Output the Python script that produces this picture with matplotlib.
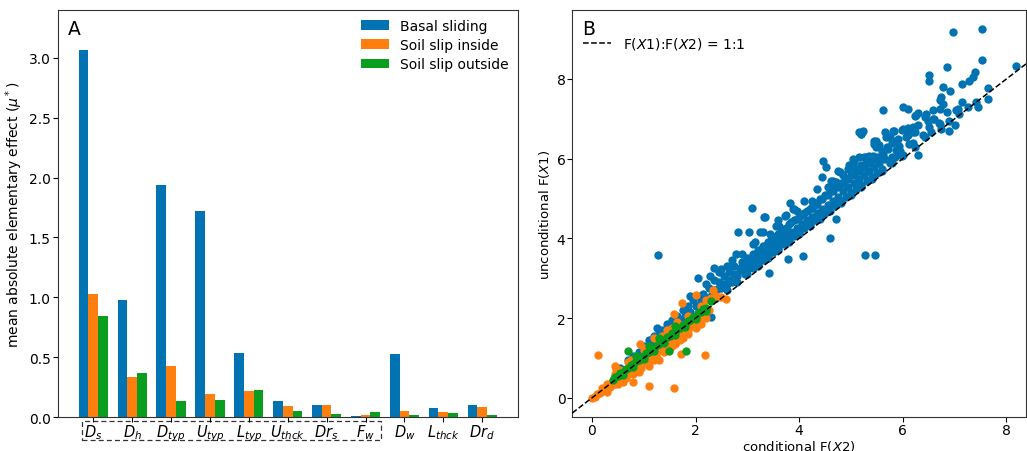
import numpy as np
import matplotlib
matplotlib.use("Agg")
import matplotlib.pyplot as plt
from matplotlib.patches import Rectangle
import matplotlib.transforms as mtransforms

# ---------------- data: panel A ----------------
categories = [r"$D_s$", r"$D_h$", r"$D_{typ}$", r"$U_{typ}$", r"$L_{typ}$", r"$U_{thck}$",
              r"$Dr_s$", r"$F_w$", r"$D_w$", r"$L_{thck}$", r"$Dr_d$"]
basal_sliding = [3.07, 0.978, 1.936, 1.718, 0.534, 0.131, 0.103, 0.008, 0.528, 0.073, 0.103]
soil_inside = [1.028, 0.335, 0.425, 0.196, 0.215, 0.089, 0.098, 0.017, 0.053, 0.042, 0.084]
soil_outside = [0.844, 0.369, 0.137, 0.145, 0.229, 0.053, 0.028, 0.042, 0.020, 0.031, 0.020]
series_names = ["Basal sliding", "Soil slip inside", "Soil slip outside"]

# ---------------- data: panel B ----------------
blue_pts = [
    # outliers / sparse upper part
    (6.96, 9.19), (7.53, 9.26), (7.53, 8.48), (8.18, 8.33), (6.85, 8.29), (6.51, 8.10),
    (6.51, 7.96), (7.40, 8.17), (7.35, 8.06), (7.28, 7.96), (7.15, 7.87), (7.64, 7.77),
    (6.78, 7.81), (6.91, 7.71), (6.74, 7.54), (6.71, 7.48), (7.15, 7.42), (7.41, 7.42),
    (7.25, 7.29), (7.06, 7.25), (5.61, 7.23), (6.00, 7.29), (6.11, 7.25), (6.29, 7.14),
    (6.23, 7.06), (6.45, 7.12), (6.58, 7.21), (6.71, 7.25), (6.78, 7.38), (6.85, 7.16),
    (6.48, 6.95), (6.58, 6.99), (6.71, 6.87), (6.90, 6.95), (7.03, 7.21), (7.09, 7.12),
    (6.74, 6.75), (6.90, 6.70), (6.55, 6.66), (6.42, 6.54), (6.19, 6.79), (6.23, 6.66),
    (6.00, 6.75), (5.81, 6.70), (5.65, 6.66), (5.23, 6.70), (5.20, 6.62), (5.45, 6.45),
    (5.48, 6.29), (5.74, 6.54), (5.87, 6.45), (5.93, 6.33), (5.87, 6.21), (6.06, 6.54),
    (6.12, 6.37), (6.23, 6.29), (5.71, 6.25), (5.61, 6.12), (5.42, 6.08), (5.29, 6.04),
    (5.55, 5.95), (5.80, 6.04), (5.99, 6.08), (6.25, 7.10), (6.42, 7.04), (5.16, 6.68),
    (5.19, 6.62), (5.84, 6.70), (5.99, 6.73), (6.10, 6.76), (6.20, 6.68), (5.68, 6.54),
    (5.49, 6.45), (5.45, 6.37), (4.46, 5.95), (4.52, 5.79), (5.03, 5.99), (5.16, 6.04),
    (5.29, 6.00), (5.35, 6.08), (4.97, 5.83), (4.78, 5.66), (4.71, 5.41), (4.62, 5.45),
    (3.08, 4.76), (3.35, 4.53), (2.82, 4.17), (3.04, 4.16), (3.24, 4.16), (3.43, 4.11),
    (3.74, 4.60), (3.82, 4.89), (3.88, 4.74), (3.62, 4.32), (3.72, 4.57), (3.33, 4.53),
    (1.27, 3.58), (2.05, 3.00), (2.27, 3.05), (2.50, 3.24), (2.79, 3.61),
    # points below the 1:1 line
    (5.27, 3.59), (5.46, 3.59), (4.60, 4.02), (4.07, 3.57), (3.42, 3.13), (3.78, 3.49),
    (2.30, 2.04), (4.71, 4.49), (6.30, 6.10), (7.00, 6.85), (7.45, 7.30), (7.65, 7.50),
    # dense band
    (0.45, 0.55), (0.55, 0.75), (0.60, 0.70), (0.70, 0.95), (0.75, 0.85), (0.80, 1.05),
    (0.85, 0.95), (0.90, 1.15), (0.95, 1.10), (1.00, 1.30), (1.05, 1.20), (1.10, 1.45),
    (1.15, 1.35), (1.20, 1.55), (1.25, 1.75), (1.30, 1.60), (1.35, 1.70), (1.40, 1.65),
    (1.45, 1.85), (1.50, 1.75), (1.55, 1.95), (1.60, 1.85), (1.65, 2.05), (1.70, 1.95),
    (1.75, 2.20), (1.80, 2.05), (1.85, 2.30), (1.90, 2.15), (1.95, 2.45), (2.00, 2.30),
    (2.05, 2.55), (2.10, 2.40), (2.15, 2.60), (2.20, 2.50), (2.25, 2.75), (2.30, 2.55),
    (2.35, 2.95), (2.40, 2.70), (2.45, 2.90), (2.50, 2.75), (2.55, 3.05), (2.60, 2.85),
    (2.65, 3.15), (2.70, 2.90), (2.75, 3.30), (2.80, 3.05), (2.85, 3.25), (2.90, 3.40),
    (2.95, 3.10), (3.00, 3.50), (3.00, 3.20), (3.05, 3.35), (3.10, 3.60), (3.10, 3.25),
    (3.15, 3.45), (3.20, 3.70), (3.20, 3.35), (3.25, 3.55), (3.30, 3.80), (3.30, 3.45),
    (3.35, 3.65), (3.40, 3.90), (3.40, 3.55), (3.45, 3.75), (3.50, 4.00), (3.50, 3.65),
    (3.55, 3.85), (3.60, 4.10), (3.60, 3.75), (3.65, 3.95), (3.70, 4.20), (3.70, 3.85),
    (3.75, 4.05), (3.80, 4.35), (3.80, 3.95), (3.85, 4.15), (3.90, 4.45), (3.90, 4.05),
    (3.95, 4.25), (4.00, 4.55), (4.00, 4.15), (4.05, 4.35), (4.10, 4.65), (4.10, 4.25),
    (4.15, 4.45), (4.20, 4.75), (4.20, 4.35), (4.25, 4.55), (4.30, 4.85), (4.30, 4.45),
    (4.35, 4.65), (4.40, 5.00), (4.40, 4.55), (4.45, 4.75), (4.50, 5.10), (4.50, 4.65),
    (4.55, 4.85), (4.60, 5.20), (4.60, 4.75), (4.65, 4.95), (4.70, 5.30), (4.70, 4.85),
    (4.75, 5.05), (4.80, 5.40), (4.80, 4.95), (4.85, 5.20), (4.90, 5.50), (4.90, 5.05),
    (4.95, 5.30), (5.00, 5.60), (5.00, 5.15), (5.05, 5.40), (5.10, 5.70), (5.10, 5.25),
    (5.15, 5.50), (5.20, 5.85), (5.20, 5.35), (5.25, 5.60), (5.30, 5.90), (5.30, 5.45),
    (5.35, 5.70), (5.40, 6.00), (5.40, 5.55), (5.45, 5.80), (5.50, 6.05), (5.50, 5.65),
    (5.55, 5.90), (5.60, 6.20), (5.60, 5.75), (5.65, 6.00), (5.70, 6.30), (5.75, 5.90),
    (5.80, 6.40), (5.85, 6.05), (5.90, 6.50), (5.95, 6.20), (6.00, 6.10), (6.10, 6.60),
    (6.20, 6.40), (6.30, 6.85), (6.40, 6.60), (6.50, 6.80), (6.60, 7.00), (6.70, 6.90),
    (3.15, 3.90), (3.55, 4.30), (3.95, 4.70), (4.25, 4.95), (4.55, 5.30), (4.85, 5.60),
    (5.05, 5.80), (2.60, 3.30), (2.20, 2.85), (1.90, 2.55),
    (2.35, 2.70), (2.45, 2.75), (2.55, 2.85), (2.65, 2.95), (2.75, 3.10), (2.85, 3.20),
    (2.95, 3.35), (3.05, 3.45), (3.15, 3.55), (3.25, 3.70), (3.35, 3.80), (3.45, 3.95),
    (3.55, 4.05), (3.65, 4.15), (3.75, 4.25), (3.85, 4.40), (3.95, 4.50), (4.05, 4.60),
    (4.15, 4.70), (4.25, 4.80), (4.35, 4.90), (4.45, 5.00), (4.55, 5.10), (4.65, 5.20),
    (4.75, 5.30), (4.85, 5.40), (4.95, 5.50), (5.05, 5.60), (5.15, 5.70), (5.25, 5.80),
    (5.35, 5.90), (5.45, 6.00),
    (2.40, 2.50), (2.60, 2.70), (2.80, 2.90), (3.00, 3.10), (3.20, 3.30), (3.40, 3.50),
    (3.60, 3.70), (3.80, 3.90), (4.00, 4.10), (4.20, 4.30), (4.40, 4.50), (4.60, 4.70),
    (4.80, 4.90), (5.00, 5.10), (5.20, 5.30), (5.40, 5.50), (5.60, 5.70), (5.80, 5.90),
    (3.30, 4.15), (3.60, 4.45), (3.90, 4.75), (4.10, 4.95), (4.35, 5.25), (4.65, 5.45),
    (4.95, 5.75), (5.25, 6.05), (5.55, 6.35), (5.75, 6.55), (4.45, 5.55), (4.75, 5.70),
    (5.05, 5.95), (2.90, 3.60), (3.10, 3.85), (2.70, 3.45), (2.45, 3.15), (2.35, 3.25),
]
orange_pts = [
    (0.12, 1.08), (1.10, 0.29), (1.58, 0.25), (2.18, 1.08), (1.71, 1.10), (0.80, 0.39),
    (0.44, 0.81), (0.46, 0.73), (0.92, 1.34), (1.58, 2.11), (1.73, 2.38), (2.00, 2.57),
    (2.34, 2.71), (2.50, 2.52), (2.59, 2.48), (1.63, 1.40), (1.82, 1.65), (1.30, 0.95),
    (0.00, 0.00), (0.05, 0.02), (0.10, 0.10), (0.15, 0.12), (0.20, 0.25), (0.25, 0.20),
    (0.30, 0.35), (0.35, 0.28), (0.40, 0.45), (0.45, 0.35), (0.50, 0.50), (0.55, 0.45),
    (0.60, 0.55), (0.65, 0.60), (0.70, 0.60), (0.75, 0.70), (0.80, 0.70), (0.85, 0.85),
    (0.90, 0.80), (0.95, 0.85), (1.00, 0.90), (1.05, 1.00), (1.10, 0.95), (1.15, 1.05),
    (1.20, 1.10), (1.25, 1.15), (1.30, 1.20), (1.35, 1.30), (1.40, 1.25), (1.45, 1.35),
    (1.50, 1.40), (1.55, 1.45), (1.60, 1.50), (1.65, 1.55), (1.70, 1.60), (1.75, 1.65),
    (1.80, 1.75), (1.85, 1.70), (1.90, 1.80), (1.95, 1.85), (2.00, 1.95), (2.05, 1.90),
    (2.10, 2.00), (2.15, 2.10), (2.25, 2.20), (0.45, 0.60), (0.70, 0.90), (1.20, 1.50),
    (1.45, 1.70), (1.00, 1.20), (0.60, 0.40), (0.90, 0.65), (1.20, 0.95), (1.50, 1.25),
    (1.75, 1.50), (2.00, 1.80), (1.35, 1.55), (1.65, 1.90), (1.10, 0.80), (0.30, 0.15),
    (0.50, 0.35), (0.65, 0.50), (0.80, 0.60), (0.95, 0.75), (1.10, 0.90), (1.25, 1.00),
    (1.40, 1.15), (1.55, 1.30), (1.70, 1.45), (1.85, 1.60), (2.00, 1.75), (2.10, 1.85),
    (2.20, 2.00), (1.60, 1.35), (0.55, 0.70), (0.75, 0.95), (1.05, 1.25), (1.25, 1.45),
    (1.55, 1.75), (1.85, 2.05), (2.10, 2.30), (2.20, 2.45), (2.30, 2.50), (2.40, 2.55),
]
green_pts = [
    (0.70, 1.17), (1.49, 1.17), (1.81, 1.17), (2.30, 2.42),
    (0.40, 0.45), (0.45, 0.52), (0.50, 0.55), (0.55, 0.62), (0.60, 0.65), (0.65, 0.72),
    (0.70, 0.75), (0.75, 0.82), (0.80, 0.85), (0.85, 0.92), (0.90, 0.95), (0.95, 1.02),
    (1.00, 1.05), (1.05, 1.12), (1.10, 1.15), (1.15, 1.22), (1.20, 1.25), (1.25, 1.32),
    (1.30, 1.35), (1.35, 1.42), (1.40, 1.45), (1.45, 1.52), (1.50, 1.55), (1.55, 1.62),
    (1.60, 1.65), (1.65, 1.72), (1.70, 1.75), (1.75, 1.82), (1.80, 1.85), (1.85, 1.92),
    (1.90, 1.95), (1.95, 2.02), (2.00, 2.05), (2.05, 2.12), (2.10, 2.15), (2.15, 2.22),
    (2.20, 2.25), (1.10, 1.30), (1.30, 1.50), (0.85, 1.05), (1.60, 1.80),
    (0.60, 0.58), (0.80, 0.77), (1.00, 0.97), (1.20, 1.17), (1.40, 1.37), (1.60, 1.57),
    (1.80, 1.77), (2.00, 1.97), (2.20, 2.17),
]

# ---------------- styling ----------------
colors = ["#0173b2", "#ff7f0e", "#0a9e1e"]

fig = plt.figure(figsize=(10.27, 4.52), dpi=100)
axA = fig.add_axes([0.0562, 0.0752, 0.4479, 0.9004])
axB = fig.add_axes([0.5567, 0.0752, 0.4424, 0.9004])

# ---- Panel A ----
x = np.arange(len(categories))
w = 0.25
for i, (vals, name) in enumerate(zip([basal_sliding, soil_inside, soil_outside], series_names)):
    axA.bar(x + (i - 1) * w, vals, width=w, color=colors[i], label=name)
axA.set_xticks(x)
axA.set_xticklabels(categories, fontsize=10.5)
axA.set_ylim(0, 3.4)
axA.set_yticks([0, 0.5, 1.0, 1.5, 2.0, 2.5, 3.0])
axA.tick_params(axis="y", labelsize=10, pad=1.5)
axA.tick_params(axis="x", pad=0.3)
axA.set_ylabel(r"mean absolute elementary effect ($\mu^*$)", fontsize=10, labelpad=3)
axA.text(0.022, 0.978, "A", transform=axA.transAxes, fontsize=13.5, va="top", ha="left")
axA.legend(loc="upper right", frameon=False, fontsize=10, handlelength=2.0,
           handleheight=0.7, handletextpad=0.8, labelspacing=0.37, borderaxespad=0.25)
trans = mtransforms.blended_transform_factory(axA.transData, axA.transAxes)
axA.add_patch(Rectangle((-0.3, -0.057), 7.7, 0.048, transform=trans, fill=False,
                        linestyle=(0, (4, 2.5)), linewidth=0.9, edgecolor="#333333", clip_on=False))

# ---- Panel B ----
for pts, c in zip([blue_pts, orange_pts, green_pts], colors):
    arr = np.array(pts)
    axB.scatter(arr[:, 0], arr[:, 1], s=36, color=c, linewidths=0, zorder=2)
axB.plot([-1, 10], [-1, 10], linestyle="--", color="black", linewidth=1.1, zorder=3,
         label=r"F($X$1):F($X$2) = 1:1")
axB.set_xlim(-0.39, 8.38)
axB.set_ylim(-0.48, 9.73)
axB.set_xticks([0, 2, 4, 6, 8])
axB.set_yticks([0, 2, 4, 6, 8])
axB.tick_params(labelsize=10, pad=1.0)
axB.set_xlabel(r"conditional F($X$2)", fontsize=9.5, labelpad=0.5)
axB.set_ylabel(r"unconditional F($X$1)", fontsize=9.5, labelpad=3)
axB.text(0.022, 0.978, "B", transform=axB.transAxes, fontsize=13.5, va="top", ha="left")
axB.legend(loc="upper left", bbox_to_anchor=(0.0125, 0.952), borderaxespad=0,
           frameon=False, fontsize=10, handlelength=2.0, handletextpad=0.9)

for ax in (axA, axB):
    for sp in ax.spines.values():
        sp.set_color("#333333")

fig.savefig("out.png", dpi=100)
